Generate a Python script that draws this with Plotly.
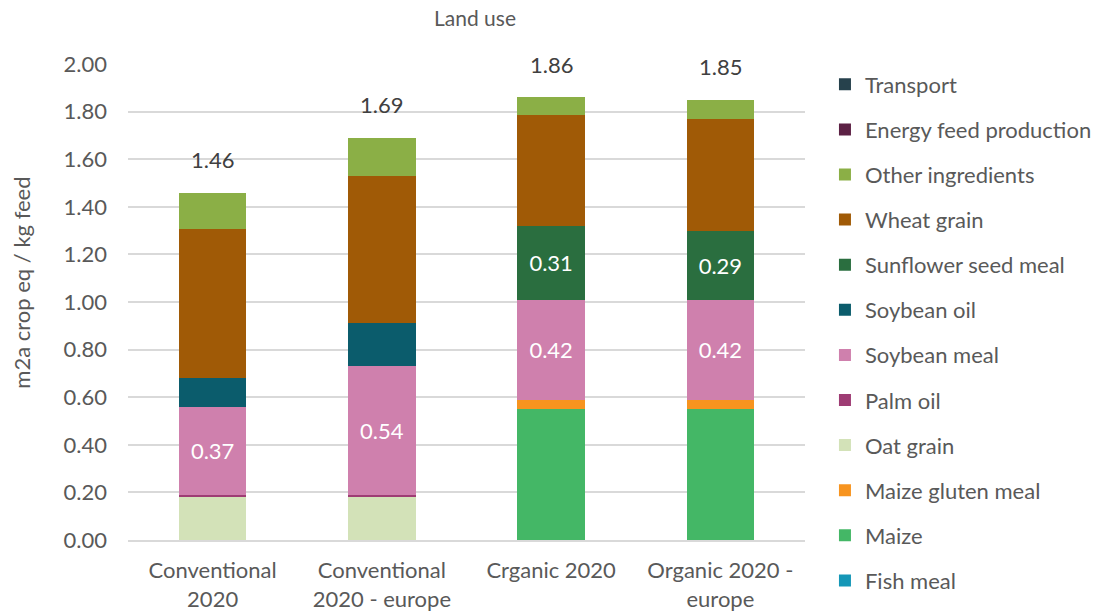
import plotly.graph_objects as go

categories = ["Conventional<br>2020", "Conventional<br>2020 - europe", "Crganic 2020", "Organic 2020 -<br>europe"]

# stacked from bottom to top
series_names = ["Fish meal", "Maize", "Maize gluten meal", "Oat grain", "Palm oil", "Soybean meal",
                "Soybean oil", "Sunflower seed meal", "Wheat grain", "Other ingredients",
                "Energy feed production", "Transport"]

fish_meal = [0, 0, 0, 0]
maize = [0, 0, 0.55, 0.55]
maize_gluten_meal = [0, 0, 0.04, 0.04]
oat_grain = [0.18, 0.18, 0, 0]
palm_oil = [0.01, 0.01, 0, 0]
soybean_meal = [0.37, 0.54, 0.42, 0.42]
soybean_oil = [0.12, 0.18, 0, 0]
sunflower_seed_meal = [0, 0, 0.31, 0.29]
wheat_grain = [0.625, 0.62, 0.465, 0.47]
other_ingredients = [0.155, 0.16, 0.075, 0.08]
energy_feed_production = [0, 0, 0, 0]
transport = [0, 0, 0, 0]

totals = [1.46, 1.69, 1.86, 1.85]
total_labels = ["1.46", "1.69", "1.86", "1.85"]

series_values = [fish_meal, maize, maize_gluten_meal, oat_grain, palm_oil, soybean_meal,
                 soybean_oil, sunflower_seed_meal, wheat_grain, other_ingredients,
                 energy_feed_production, transport]

colors = {
    "Fish meal": "#1597B7",
    "Maize": "#44B766",
    "Maize gluten meal": "#F7941F",
    "Oat grain": "#D3E2B8",
    "Palm oil": "#9E3C74",
    "Soybean meal": "#CF80AD",
    "Soybean oil": "#0B5C6C",
    "Sunflower seed meal": "#2A6E3F",
    "Wheat grain": "#A05A06",
    "Other ingredients": "#8BAF46",
    "Energy feed production": "#5C2144",
    "Transport": "#26414C",
}

labeled = {"Soybean meal", "Sunflower seed meal"}

FONT = "Lato"
GRAY = "#595959"
FS = 22

fig = go.Figure()
n = len(series_names)
for i, (name, vals) in enumerate(zip(series_names, series_values)):
    if name in labeled:
        txt = [f"{v:.2f}" if v > 0 else "" for v in vals]
    else:
        txt = ["" for _ in vals]
    fig.add_trace(go.Bar(
        x=categories, y=vals, name=name, legendgroup=name, legendrank=n - i,
        marker=dict(color=colors[name], line=dict(width=0)),
        text=txt, textposition="inside", insidetextanchor="middle",
        textfont=dict(color="white", size=FS, family=FONT),
        hoverinfo="x+y+name",
    ))

for c, t, lab in zip(categories, totals, total_labels):
    fig.add_annotation(x=c, y=t, text=lab, showarrow=False, yshift=33,
                       font=dict(size=FS, color="#404040", family=FONT))

# y-axis title as annotation for exact placement
fig.add_annotation(xref="paper", yref="paper", x=-0.157, y=0.54, xanchor="center", yanchor="middle",
                   text="m2a crop eq / kg feed", textangle=-90, showarrow=False,
                   font=dict(size=22, color=GRAY, family=FONT))

fig.update_layout(
    barmode="stack",
    bargap=0.6,
    width=1096, height=614,
    margin=dict(l=128, r=291, t=64, b=74, autoexpand=False),
    paper_bgcolor="white", plot_bgcolor="white",
    font=dict(family=FONT, color=GRAY, size=FS),
    title=dict(text="Land use", xref="container", x=0.4334, xanchor="center",
               yref="container", y=0.97, yanchor="middle",
               font=dict(size=21, color=GRAY, family=FONT)),
    legend=dict(traceorder="grouped", xref="container", x=0.7527, xanchor="left",
                yref="container", y=0.8966, yanchor="top",
                font=dict(size=FS, color=GRAY, family=FONT), tracegroupgap=13.5,
                maxheight=614, itemclick=False),
    uniformtext=dict(minsize=8, mode="show"),
)
fig.update_yaxes(range=[0, 2.0], dtick=0.2, tickformat=".2f", showgrid=True,
                 gridcolor="#D9D9D9", gridwidth=1.5, zeroline=False, automargin=False,
                 ticks="", ticklabelstandoff=20,
                 tickfont=dict(size=FS, color=GRAY, family=FONT))
fig.update_xaxes(showline=True, linecolor="#D9D9D9", linewidth=1.5, ticks="", automargin=False,
                 ticklabelstandoff=10,
                 tickfont=dict(size=FS, color=GRAY, family=FONT))

fig.write_html("out.html")
